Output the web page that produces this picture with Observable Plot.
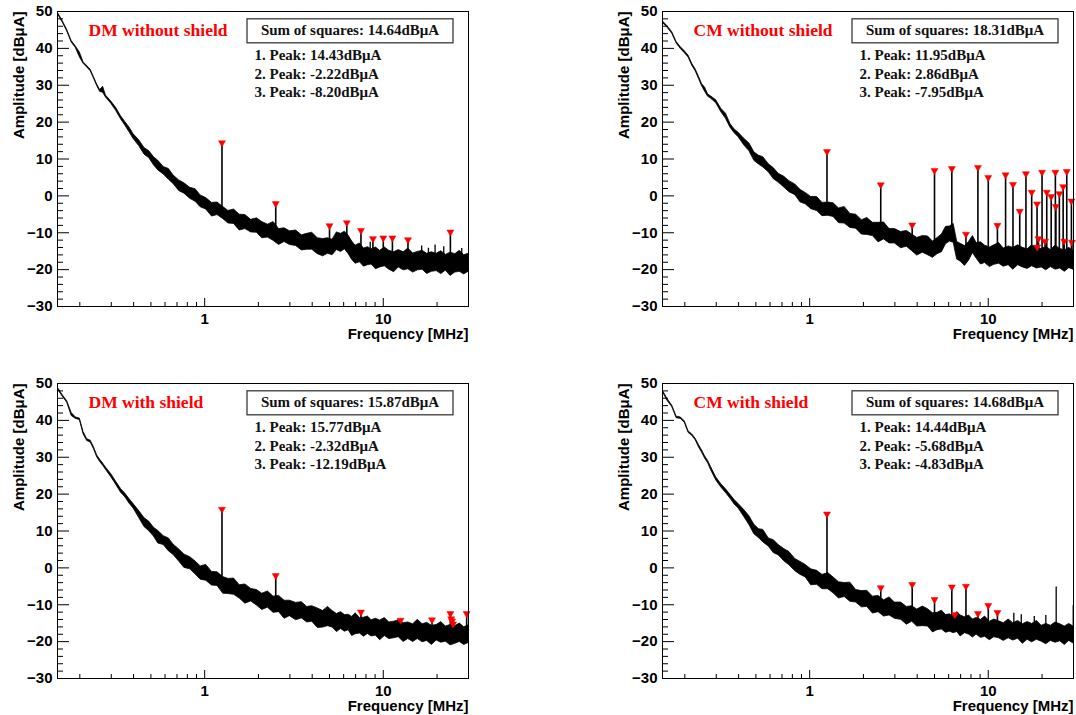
<!DOCTYPE html>
<html><head><meta charset="utf-8">
<script src="https://cdn.jsdelivr.net/npm/d3@7"></script>
<script src="https://cdn.jsdelivr.net/npm/@observablehq/plot@0.6"></script>
<style>
html,body{margin:0;padding:0;background:#fff;}
#wrap{position:relative;width:1076px;height:715px;overflow:hidden;background:#fff;}
.panel{position:absolute;}
.panel svg{display:block;max-width:none;}
</style></head><body><div id="wrap"></div>
<script>
// ---------- data ----------
const freqMHz = [0.15,0.16,0.17,0.18,0.19,0.20,0.21,0.22,0.23,0.24,0.25,0.26,0.27,0.28,0.30,0.32,0.34,0.36,0.38,0.40,
  0.43,0.46,0.49,0.52,0.55,0.59,0.63,0.67,0.72,0.77,0.83,0.89,0.95,1.02,1.1,1.18,1.27,1.36,1.46,1.57,
  1.69,1.82,1.96,2.1,2.26,2.43,2.61,2.8,3.0,3.25,3.5,3.75,4.0,4.3,4.6,4.9,5.2,5.5,5.8,6.1,
  6.4,6.7,7.0,7.4,7.8,8.2,8.6,9.1,9.6,10.2,10.8,11.5,12.2,13,13.8,14.7,15.6,16.6,17.6,18.7,
  19.9,21.1,22.4,23.8,25.3,26.8,28.4,30];

// DM without shield: upper / lower edge of the noisy trace (dBuA)
const dmNoShieldHi = [49.8,47.5,45.0,42.0,40.5,38.9,36.2,35.2,34.2,32.2,30.2,28.7,29.6,27.2,25.6,23.8,21.6,20.0,18.5,16.7,
  15.1,13.0,12.1,10.5,9.5,7.8,7.3,5.5,4.2,3.4,2.2,1.8,0.1,-0.6,-1.9,-1.8,-3.0,-4.1,-3.7,-5.1,
  -5.2,-6.5,-6.1,-7.1,-7.8,-7.1,-9.0,-8.8,-9.6,-9.4,-10.7,-10.3,-10.0,-11.5,-11.7,-11.5,-11.9,-9.9,-10.3,-9.7,
  -10.8,-12.4,-13.5,-12.9,-14.3,-13.9,-14.5,-14.0,-14.9,-14.0,-14.9,-15.3,-14.7,-15.3,-14.3,-15.6,-15.2,-14.9,-15.7,-15.3,
  -15.7,-15.0,-16.0,-15.4,-15.8,-14.9,-16.1,-15.7];
const dmNoShieldLo = [49.4,47.1,44.6,41.6,40.1,37.6,35.8,34.8,33.8,31.8,29.8,28.2,28.0,26.7,25.0,23.0,20.8,19.0,17.2,15.4,
  13.5,11.2,10.2,8.3,6.9,5.8,4.4,3.2,1.3,0.6,-0.8,-1.6,-3.1,-3.7,-5.6,-5.2,-6.3,-7.5,-7.6,-9.4,
  -9.0,-9.9,-10.0,-11.5,-11.3,-12.2,-13.3,-12.5,-13.3,-13.6,-14.8,-14.6,-14.6,-15.8,-16.4,-15.7,-16.1,-14.7,-15.2,-14.5,
  -15.8,-17.4,-18.4,-18.0,-19.2,-18.8,-18.6,-19.9,-19.4,-19.1,-20.0,-20.7,-19.4,-20.2,-19.9,-20.8,-20.2,-20.0,-21.2,-20.6,
  -20.4,-21.2,-20.3,-21.7,-20.8,-20.6,-21.3,-20.6];

// CM without shield
const cmNoShieldHi = [47.4,46.0,44.4,41.7,40.3,39.2,38.0,35.8,34.3,32.3,30.3,29.3,27.5,27.0,25.9,23.6,22.3,19.5,18.0,17.1,
  15.5,14.2,11.8,10.9,10.5,8.6,7.5,6.0,5.2,4.0,3.1,1.6,0.8,-0.3,-0.3,-1.9,-1.8,-2.0,-3.4,-3.0,
  -4.9,-5.1,-6.6,-6.0,-7.3,-7.3,-7.2,-9.0,-9.0,-9.8,-9.5,-10.5,-11.4,-10.9,-11.0,-12.4,-11.4,-10.5,-8.4,-8.3,
  -7.6,-12.5,-13.0,-13.6,-12.5,-10.9,-12.8,-12.6,-13.5,-14.0,-13.4,-12.8,-14.3,-13.7,-14.1,-13.4,-14.1,-14.5,-13.4,-14.1,
  -14.4,-13.8,-14.7,-13.5,-14.4,-14.8,-14.1,-15.0];
const cmNoShieldLo = [47.0,45.6,44.0,41.3,39.8,38.7,37.5,35.3,33.8,31.7,29.7,28.2,26.9,26.4,25.1,22.7,20.9,18.5,17.0,15.9,
  13.7,12.1,9.5,8.5,7.7,6.4,4.5,3.6,2.3,1.0,0.2,-1.8,-2.3,-3.6,-4.1,-5.5,-5.4,-5.7,-7.4,-7.5,
  -8.7,-8.9,-10.5,-10.6,-10.9,-12.6,-11.8,-12.9,-12.9,-14.2,-13.8,-15.0,-16.2,-15.4,-16.1,-16.8,-15.8,-15.3,-13.1,-12.4,
  -12.7,-17.3,-17.8,-19.0,-17.6,-15.5,-17.0,-18.6,-18.2,-19.3,-18.7,-18.4,-19.2,-18.8,-20.0,-18.8,-19.4,-19.8,-19.1,-19.7,
  -19.4,-20.2,-19.3,-20.0,-19.7,-20.6,-19.6,-20.0];

// DM with shield
const dmShieldHi = [49.0,46.9,45.2,42.0,40.8,40.5,36.8,34.9,34.5,32.7,30.5,29.3,28.3,27.2,25.4,23.3,21.4,20.1,18.6,17.3,
  15.4,13.5,12.5,10.9,10.0,8.6,8.0,6.3,5.0,3.6,2.9,1.7,0.4,0.8,-1.1,-1.2,-2.5,-3.0,-2.9,-4.7,
  -4.5,-5.7,-6.0,-7.0,-6.4,-7.8,-7.6,-8.9,-8.9,-9.5,-9.3,-10.6,-10.4,-11.0,-11.7,-10.6,-11.7,-12.5,-12.0,-12.8,
  -12.7,-13.3,-12.3,-13.6,-13.5,-13.2,-14.2,-13.8,-14.3,-13.6,-14.8,-14.6,-14.2,-15.0,-14.8,-15.3,-14.1,-15.3,-14.9,-15.7,
  -15.5,-14.7,-15.9,-15.5,-15.8,-15.1,-16.1,-15.6];
const dmShieldLo = [48.6,46.5,44.8,41.2,40.4,40.1,36.2,34.4,34.0,32.2,30.0,28.7,27.7,26.6,24.6,22.5,20.4,19.1,17.4,16.1,
  13.5,11.1,9.9,8.5,6.6,6.2,4.5,3.5,1.7,0.0,-0.4,-1.8,-3.2,-3.5,-4.8,-4.9,-7.0,-7.1,-7.3,-8.3,
  -9.7,-9.1,-10.2,-11.4,-10.8,-12.2,-12.0,-13.8,-13.1,-14.2,-13.7,-14.8,-14.6,-16.3,-16.2,-15.8,-16.2,-17.4,-16.6,-17.3,
  -16.9,-18.5,-18.0,-17.8,-18.7,-17.9,-18.6,-18.4,-19.6,-18.5,-19.3,-19.1,-18.8,-20.1,-19.3,-20.1,-19.3,-20.2,-19.8,-20.9,
  -19.7,-20.3,-20.0,-21.0,-20.6,-20.1,-20.9,-20.4];

// CM with shield
const cmShieldHi = [48.2,45.8,44.0,41.0,40.8,39.7,37.0,36.2,35.0,33.3,31.8,30.2,29.0,27.4,24.5,22.7,21.3,19.8,18.4,17.3,
  15.7,14.0,11.7,10.5,10.3,8.0,7.5,6.2,5.1,4.3,2.4,1.6,0.8,-0.4,-0.8,-1.9,-1.4,-2.6,-3.9,-4.1,
  -4.0,-6.0,-6.3,-6.2,-7.8,-7.6,-8.8,-8.0,-9.4,-9.4,-10.6,-10.4,-11.3,-10.5,-11.2,-12.3,-12.2,-11.6,-12.8,-12.6,
  -13.3,-12.0,-12.9,-13.4,-12.9,-14.0,-13.6,-14.1,-13.2,-14.6,-14.0,-14.5,-15.0,-14.0,-15.0,-14.4,-15.3,-14.7,-15.2,-14.4,
  -15.7,-15.2,-15.7,-14.8,-15.3,-15.9,-15.2,-15.9];
const cmShieldLo = [47.8,45.3,43.6,40.6,40.4,39.3,36.6,35.8,34.6,32.7,31.2,29.6,28.4,26.6,23.7,21.8,20.3,18.8,17.2,16.1,
  13.8,11.6,9.1,8.1,6.9,5.8,4.0,3.4,1.8,0.7,-0.9,-1.9,-2.6,-4.7,-4.6,-5.8,-5.8,-6.9,-8.3,-7.9,
  -9.2,-9.4,-10.7,-10.6,-12.4,-12.0,-13.2,-12.9,-13.8,-14.1,-15.4,-14.6,-15.9,-15.8,-15.9,-17.5,-16.9,-16.7,-17.6,-17.3,
  -17.7,-17.4,-18.6,-17.7,-18.1,-18.9,-18.1,-19.0,-18.7,-19.6,-18.8,-19.1,-19.8,-19.1,-19.7,-19.2,-20.6,-19.5,-20.2,-19.5,
  -20.0,-20.7,-19.8,-20.3,-19.9,-20.9,-19.8,-20.5];

// marked peaks (frequency MHz, peak dBuA, foot of the spike dBuA)
const dmNoShieldPeakF = [1.25,2.5,5.0,6.25,7.5,8.75,10,11.25,13.75,23.75];
const dmNoShieldPeakV = [14.4,-2.1,-8.1,-7.3,-9.4,-11.6,-11.4,-11.4,-11.9,-9.8];
const dmNoShieldPeakB = [-3.5,-9.6,-13.5,-12.4,-16.0,-16.5,-17.0,-17.2,-17.6,-18.2];
const cmNoShieldPeakF = [1.25,2.5,3.75,5.0,6.25,7.5,8.75,10,11.25,12.5,13.75,15,16.25,17.5,18.75,18.8,19.1,20,20.8,21.25,22.5,23.75,23.9,25,26.25,26.6,27.5,29.2,29.4];
const cmNoShieldPeakV = [12.0,3.0,-7.9,6.9,7.4,-10.4,7.7,5.0,-8.0,5.7,3.1,-4.2,6.0,1.0,-2.2,-13.9,-11.6,6.4,-12.3,1.0,-0.2,6.4,-2.9,0.6,2.5,-12.3,6.6,-1.4,-12.6];
const cmNoShieldPeakB = [-3.5,-9.5,-12.5,-14.0,-10.0,-15.6,-15.8,-16.0,-16.2,-16.3,-16.4,-16.5,-16.6,-16.7,-16.8,-16.8,-16.8,-16.9,-16.9,-16.9,-17.0,-17.0,-17.0,-17.0,-17.1,-17.1,-17.1,-17.2,-17.2];
const dmShieldPeakF = [1.25,2.5,7.5,12.5,18.75,23.75,24.0,24.3,24.6,29.3];
const dmShieldPeakV = [15.9,-2.1,-12.0,-14.2,-14.1,-12.4,-13.8,-14.4,-15.2,-12.4];
const dmShieldPeakB = [-4.0,-10.0,-15.6,-17.0,-17.7,-18.0,-18.0,-18.0,-18.0,-18.3];
const cmShieldPeakF = [1.25,2.5,3.75,5.0,6.25,6.5,7.5,8.75,10,11.25];
const cmShieldPeakV = [14.6,-5.4,-4.5,-8.6,-5.2,-12.7,-5.0,-12.4,-10.2,-12.1];
const cmShieldPeakB = [-3.5,-10.0,-12.8,-14.2,-15.0,-15.3,-15.6,-16.3,-16.6,-16.9];

// unmarked spikes
const dmNoShieldSpikeF = [8.45,16.4,17.9,19.5,21.8,27.5];
const dmNoShieldSpikeV = [-12.6,-13.6,-14.2,-13.3,-13.8,-14.3];
const dmNoShieldSpikeB = [-16.5,-17.8,-17.9,-18.0,-18.1,-18.3];
const cmShieldSpikeF = [3.63,13.9,15.3,18.1,21.0,24.0,29.9];
const cmShieldSpikeV = [-10.5,-12.3,-12.7,-13.2,-12.9,-5.2,-10.2];
const cmShieldSpikeB = [-12.8,-17.2,-17.3,-17.5,-17.7,-17.8,-18.0];

// texts
const titles = ["DM without shield","CM without shield","DM with shield","CM with shield"];
const sumOfSquares = ["14.64","18.31","15.87","14.68"];
const peak1 = ["14.43","11.95","15.77","14.44"];
const peak2 = ["-2.22","2.86","-2.32","-5.68"];
const peak3 = ["-8.20","-7.95","-12.19","-4.83"];

// axis ticks
const xMajorTicks = [1, 10];
const xMinorTicks = [0.2,0.3,0.4,0.5,0.6,0.7,0.8,0.9,2,3,4,5,6,7,8,9,20,30];
const yMajorTicks = [-30,-20,-10,0,10,20,30,40,50];
const yMinorTicks = [-28,-26,-24,-22,-18,-16,-14,-12,-8,-6,-4,-2,2,4,6,8,12,14,16,18,22,24,26,28,32,34,36,38,42,44,46,48];

// ---------- drawing ----------
const SANS = "'Liberation Sans', Arial, Helvetica, sans-serif";
const SERIF = "'Liberation Serif', 'Times New Roman', serif";
const triDown = {draw(ctx, size) {
  const y = Math.sqrt(size / (3 * Math.sqrt(3)));
  ctx.moveTo(0, 2 * y); ctx.lineTo(-Math.sqrt(3) * y, -y); ctx.lineTo(Math.sqrt(3) * y, -y); ctx.closePath();
}};

const panels = [
  {i: 0, hi: dmNoShieldHi, lo: dmNoShieldLo, pf: dmNoShieldPeakF, pv: dmNoShieldPeakV, pb: dmNoShieldPeakB,
   ef: dmNoShieldSpikeF, ev: dmNoShieldSpikeV, eb: dmNoShieldSpikeB,
   left: 0, top: 0, width: 480, height: 345, ml: 57, mr: 12, mt: 11, mb: 39},
  {i: 1, hi: cmNoShieldHi, lo: cmNoShieldLo, pf: cmNoShieldPeakF, pv: cmNoShieldPeakV, pb: cmNoShieldPeakB,
   ef: [], ev: [], eb: [],
   left: 600, top: 0, width: 476, height: 345, ml: 62, mr: 3, mt: 11, mb: 39},
  {i: 2, hi: dmShieldHi, lo: dmShieldLo, pf: dmShieldPeakF, pv: dmShieldPeakV, pb: dmShieldPeakB,
   ef: [], ev: [], eb: [],
   left: 0, top: 370, width: 480, height: 345, ml: 57, mr: 12, mt: 13, mb: 37},
  {i: 3, hi: cmShieldHi, lo: cmShieldLo, pf: cmShieldPeakF, pv: cmShieldPeakV, pb: cmShieldPeakB,
   ef: cmShieldSpikeF, ev: cmShieldSpikeV, eb: cmShieldSpikeB,
   left: 600, top: 370, width: 476, height: 345, ml: 62, mr: 3, mt: 13, mb: 37}
];

function makePanel(p) {
  const fw = p.width - p.ml - p.mr, fh = p.height - p.mt - p.mb;
  const rows = freqMHz.map((f, i) => ({f, hi: p.hi[i], lo: p.lo[i]}));
  const peaks = p.pf.map((f, i) => ({f, v: p.pv[i], b: p.pb[i]}));
  const extra = p.ef.map((f, i) => ({f, v: p.ev[i], b: p.eb[i]}));
  const txt = (s, o) => Plot.text([s], {text: d => d, lineAnchor: "middle", ...o});
  const legendFont = {fontFamily: SERIF, fontWeight: "bold", fontSize: 15, fill: "#111"};
  return Plot.plot({
    width: p.width, height: p.height,
    marginLeft: p.ml, marginRight: p.mr, marginTop: p.mt, marginBottom: p.mb,
    style: {background: "white", color: "black", fontFamily: SANS, fontSize: "15px", fontWeight: "bold"},
    x: {type: "log", domain: [0.15, 30], ticks: xMajorTicks, tickFormat: d => String(d), tickSize: 0, tickPadding: 7, label: null},
    y: {domain: [-30, 50], ticks: yMajorTicks, tickSize: 0, tickPadding: 5, label: null},
    marks: [
      Plot.areaY(rows, {x: "f", y1: "lo", y2: "hi", fill: "black", stroke: "black", strokeWidth: 0.8, strokeLinejoin: "miter", clip: true}),
      Plot.ruleX(extra, {x: "f", y1: "b", y2: "v", stroke: "black", strokeWidth: 1.3, clip: true}),
      Plot.ruleX(peaks, {x: "f", y1: "b", y2: "v", stroke: "black", strokeWidth: 1.6, clip: true}),
      Plot.dot(peaks, {x: "f", y: "v", symbol: triDown, r: 2.6, fill: "#ff0000", stroke: "#ff0000", strokeWidth: 0.5}),
      Plot.tickX(xMinorTicks, {x: d => d, insetTop: fh - 4, stroke: "black"}),
      Plot.tickX(xMajorTicks, {x: d => d, insetTop: fh - 8, stroke: "black"}),
      Plot.tickY(yMinorTicks, {y: d => d, insetRight: fw - 6, stroke: "black"}),
      Plot.tickY(yMajorTicks, {y: d => d, insetRight: fw - 12, stroke: "black"}),
      Plot.frame({stroke: "black", strokeWidth: 1}),
      Plot.frame({insetLeft: fw - 221.5, insetRight: 15.5, insetTop: 7.3, insetBottom: fh - 31.3, stroke: "#3a3a3a", strokeWidth: 1.3, fill: "white"}),
      txt(titles[p.i], {frameAnchor: "top-left", dx: 31, dy: 19, textAnchor: "start", fontFamily: SERIF, fontWeight: "bold", fontSize: 17.5, fill: "#ff0000"}),
      txt(`Sum of squares: ${sumOfSquares[p.i]}dBμA`, {frameAnchor: "top-right", dx: -118.5, dy: 18.5, textAnchor: "middle", ...legendFont}),
      txt(`1. Peak: ${peak1[p.i]}dBμA`, {frameAnchor: "top-right", dx: -214, dy: 44, textAnchor: "start", ...legendFont}),
      txt(`2. Peak: ${peak2[p.i]}dBμA`, {frameAnchor: "top-right", dx: -214, dy: 63, textAnchor: "start", ...legendFont}),
      txt(`3. Peak: ${peak3[p.i]}dBμA`, {frameAnchor: "top-right", dx: -214, dy: 81, textAnchor: "start", ...legendFont}),
      txt("Frequency [MHz]", {frameAnchor: "bottom-right", dy: 28, textAnchor: "end", fontFamily: SANS, fontWeight: "bold", fontSize: 15, fill: "black"}),
      txt("Amplitude [dBμA]", {frameAnchor: "top-left", dx: -38, dy: 0, rotate: -90, textAnchor: "end", fontFamily: SANS, fontWeight: "bold", fontSize: 15, fill: "black"})
    ]
  });
}

const wrap = document.getElementById("wrap");
for (const p of panels) {
  const div = document.createElement("div");
  div.className = "panel";
  div.style.left = p.left + "px";
  div.style.top = p.top + "px";
  div.style.width = p.width + "px";
  div.style.height = p.height + "px";
  div.appendChild(makePanel(p));
  wrap.appendChild(div);
}
</script>
</body></html>
